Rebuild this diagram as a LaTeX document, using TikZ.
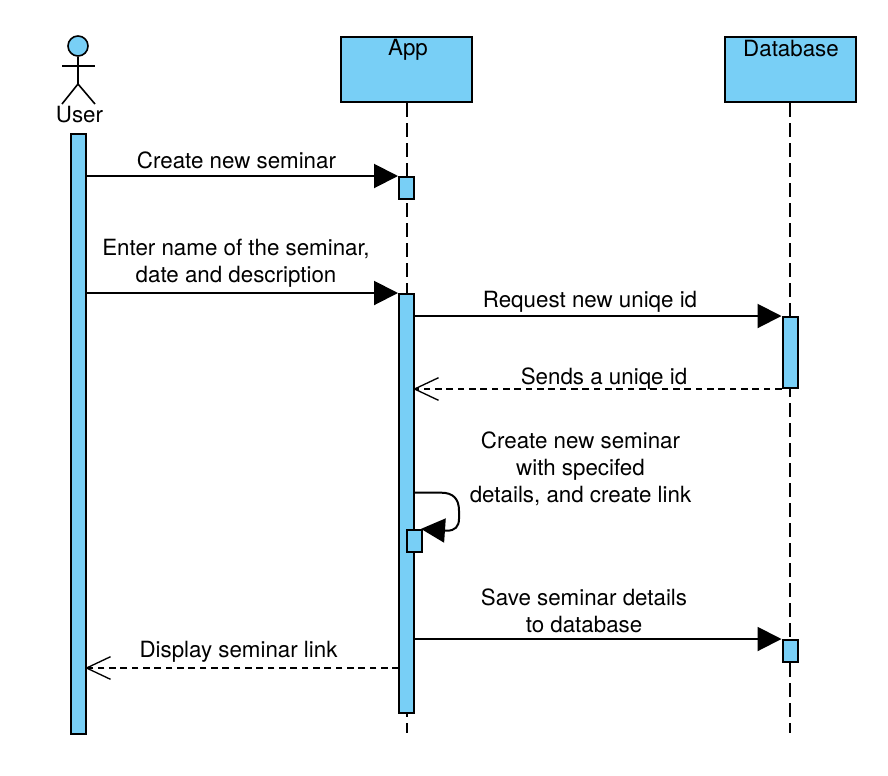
\documentclass[tikz,border=0pt]{standalone}
\usepackage{fontspec}
\setmainfont{TeX Gyre Heros}
\usetikzlibrary{arrows.meta}
\definecolor{barblue}{HTML}{78CFF6}
\tikzset{
  lifebox/.style={draw,fill=barblue,line width=1.5pt,minimum width=98pt,minimum height=49pt,inner sep=0pt},
  actbar/.style={draw,fill=barblue,line width=1.5pt,minimum width=11.25pt,inner sep=0pt},
  lifeline/.style={line width=1.5pt,dash pattern=on 10.5pt off 4.5pt},
  msg/.style={line width=1.5pt,yshift=-0.5pt,-{Triangle[length=18pt,width=18pt]}},
  reply/.style={line width=1.5pt,dash pattern=on 5pt off 3.5pt,shorten >=-1.5pt,-{Straight Barb[length=18pt,width=17pt,line width=1pt]}},
  txt/.style={font=\fontsize{16.75}{20.25}\selectfont,align=center,inner sep=0pt}
}
\begin{document}
\begin{tikzpicture}[x=0.75pt,y=-0.75pt]
\useasboundingbox (0,0) rectangle (888,775);
\node[lifebox] (app) at (406.5,69.5) {};
\node[lifebox] (db) at (790.3,69.5) {};
\coordinate (append) at (406.5,733);
\coordinate (dbend) at (790.3,733);
\foreach \life in {app,db}{
  \draw[lifeline] (\life.south) -- (\life end);
}
\node[txt] (applabel) at (408,49.5) {App};
\node[txt] (dblabel) at (791,48.5) {Database};
\foreach \bar/\x/\top/\bot in {userbar/78.5/134/733.5,appa/406.5/177/199,appb/406.5/294/713,appc/414.5/530/552,dba/790/317/388,dbb/790/640/662}{
  \node[actbar,minimum height={(\bot-\top)*0.75pt}] (\bar) at (\x,{(\top+\bot)/2}) {};
}
\node[circle,draw,fill=barblue,line width=1.2pt,minimum size=15pt,inner sep=0pt] (head) at (78,46) {};
\coordinate (hip) at (78,84);
\draw[line width=1.2pt] (head.south) -- (hip);
\draw[line width=1.2pt] (62,66) -- (95,66);
\draw[line width=1.2pt] (62,104) -- (hip) -- (95,104);
\node[txt] (userlabel) at (79.5,115) {User};
\draw[msg] (userbar.east |- appa.north west) -- (appa.north west);
\draw[msg] (userbar.east |- appb.north west) -- (appb.north west);
\draw[msg] (appb.east |- dba.north west) -- (dba.north west);
\draw[reply] (dba.south west) -- (appb.east |- dba.south west);
\draw[msg,shorten >=-1.5pt] (appb.east |- 0,492) -- (441,492) .. controls (453,492) and (459,498) .. (459,510) -- (459,518) .. controls (459,526) and (455,530) .. (447,530) -- (appc.north east);
\draw[msg] (appb.east |- dbb.north west) -- (dbb.north west);
\coordinate (replystart) at (399,668);
\draw[reply] (replystart) -- (userbar.east |- replystart);
\node[txt] (createlabel) at (236.5,160.5) {Create new seminar};
\node[txt] (enterlabel) at (236,263.5) {Enter name of the seminar,\\date and description};
\node[txt] (requestlabel) at (590,301.5) {Request new uniqe id};
\node[txt] (sendslabel) at (604,378.5) {Sends a uniqe id};
\node[txt] (selflabel) at (580.5,469) {Create new seminar\\with specifed\\details, and create link};
\node[txt] (savelabel) at (584,610.5) {Save seminar details\\to database};
\node[txt] (displaylabel) at (238.5,651.5) {Display seminar link};
\end{tikzpicture}
\end{document}
